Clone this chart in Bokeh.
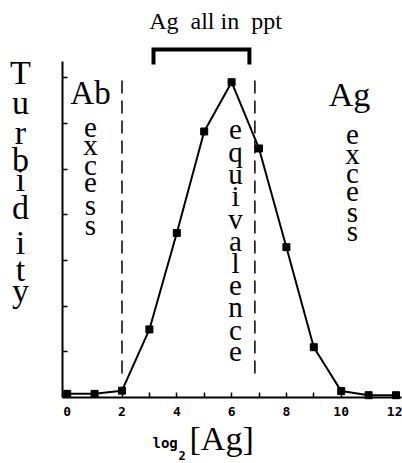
from bokeh.plotting import figure
from bokeh.models import Range1d, FixedTicker, Label
from bokeh.embed import file_html
from bokeh.resources import INLINE

# ---- data ----
log2_ag = [0, 1, 2, 3, 4, 5, 6, 7, 8, 9, 10, 11, 12]
turbidity = [0.08, 0.08, 0.15, 1.49, 3.6, 5.82, 6.9, 5.45, 3.29, 1.1, 0.14, 0.05, 0.05]
zone_bounds = [2.0, 6.85]          # dashed boundaries of the equivalence zone
bracket_x = [3.15, 6.65]           # "Ag all in ppt" bracket extent
x_ticks = [0, 2, 4, 6, 8, 10, 12]
x_minor = [1, 3, 5, 7, 9, 11]
y_ticks = [1, 2, 3, 4, 5, 6, 7]

SERIF = "Liberation Serif"
MONO = "DejaVu Sans Mono"
SHIFT = 0.37   # baseline correction (em) for Label placement

def px_x(px):
    return (px - 66.7) / 27.4

def px_y(py):
    return (397 - py) / 45.7

p = figure(width=402, height=463, output_backend="svg", toolbar_location=None,
           x_range=Range1d(px_x(0), px_x(402)), y_range=Range1d(px_y(463), px_y(0)),
           min_border_left=0, min_border_right=0, min_border_top=0,
           min_border_bottom=0)
p.grid.visible = False
p.outline_line_color = None
p.background_fill_color = "white"
p.border_fill_color = "white"

# axes (fixed inside the frame so that the surrounding texts are not clipped)
xa = p.xaxis[0]
xa.fixed_location = 0
xa.bounds = (px_x(62), px_x(401))
xa.ticker = FixedTicker(ticks=x_ticks, minor_ticks=x_minor)
xa.major_tick_in = 5
xa.major_tick_out = 0
xa.minor_tick_in = 5
xa.minor_tick_out = 0
xa.axis_line_width = 2
xa.major_tick_line_width = 1.5
xa.minor_tick_line_width = 1.5
xa.major_label_text_font = MONO
xa.major_label_text_font_style = "bold"
xa.major_label_text_font_size = "13px"
xa.major_label_text_color = "black"
xa.major_label_standoff = 9

ya = p.yaxis[0]
ya.fixed_location = px_x(62)
ya.ticker = FixedTicker(ticks=y_ticks)
ya.bounds = (0, px_y(61))
ya.major_tick_in = 5
ya.major_tick_out = 0
ya.minor_tick_line_color = None
ya.axis_line_width = 2
ya.major_tick_line_width = 1.5
ya.major_label_text_font_size = "0px"
ya.major_label_text_color = None

# dashed zone boundaries
p.segment(x0=zone_bounds, x1=zone_bounds, y0=[px_y(373)] * 2, y1=[px_y(76)] * 2,
          line_color="black", line_width=1.5, line_dash="13 7")

# bracket
p.line(x=[bracket_x[0], bracket_x[0], bracket_x[1], bracket_x[1]],
       y=[px_y(64), px_y(49), px_y(49), px_y(64)],
       line_color="black", line_width=4, line_join="miter")

# data
p.line(log2_ag, turbidity, line_color="black", line_width=2)
p.scatter(log2_ag, turbidity, marker="square", size=7, color="black")

def lab(text, x, base_py, size, font=SERIF, style="normal", align="center"):
    py = base_py - SHIFT * size
    p.add_layout(Label(x=x, y=px_y(py), text=text, text_font=font,
                       text_font_size=f"{size}px", text_font_style=style,
                       text_align=align, text_baseline="alphabetic",
                       text_color="black"))

# title over bracket
lab("Ag\u00a0 all in\u00a0 ppt", px_x(215), 29, 24)

# Turbidity (vertical stack)
for ch, by in zip("Turbidity", [85, 115, 145, 172, 192, 220, 255, 282, 303]):
    lab(ch, px_x(20), by, 34)

# Ab excess
lab("Ab", px_x(90), 105, 33)
for ch, by in zip("excess", [138, 155, 175, 193, 215, 235]):
    lab(ch, px_x(90), by, 29)

# Ag excess
lab("Ag", px_x(349), 107, 34)
for ch, by in zip("excess", [145, 164, 183, 202, 222, 241]):
    lab(ch, px_x(352), by, 29)

# equivalence
for i, ch in enumerate("equivalence"):
    lab(ch, px_x(235), 140 + i * 22.2, 29)

# x-axis label: log2[Ag]
lab("log", px_x(152), 448, 14, font=MONO, style="bold", align="left")
lab("2", px_x(178), 459, 12, font=MONO, style="bold", align="left")
lab("[Ag]", px_x(189), 451, 34, align="left")

open("out.html", "w").write(file_html(p, INLINE))
